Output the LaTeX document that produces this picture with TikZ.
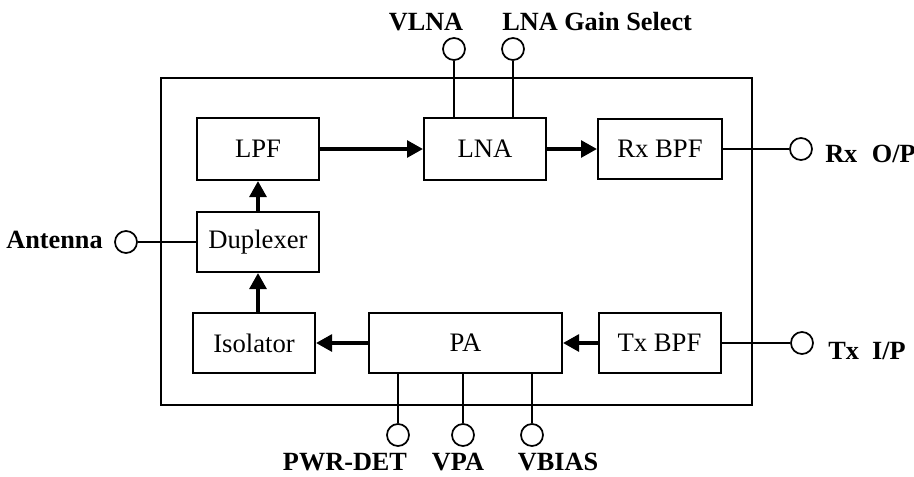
\documentclass[tikz,border=0pt]{standalone}
\usepackage{fontspec}
\setmainfont{Liberation Serif}
\usetikzlibrary{arrows.meta}

\begin{document}
\begin{tikzpicture}[x=0.75pt,y=-0.75pt,
    blk/.style={draw,line width=1.5pt,rectangle,minimum width=91.5pt,minimum height=45pt,inner sep=0pt,font=\fontsize{20}{22}\selectfont},
    pin/.style={draw,circle,line width=1.3pt,minimum size=16.5pt,inner sep=0pt},
    lbl/.style={inner sep=0pt,font=\fontsize{19.7}{22}\selectfont\bfseries},
    sig/.style={line width=2.8pt,-{Triangle[length=12pt,width=12.5pt]}},
    wire/.style={line width=1pt}]
    \useasboundingbox (0,0) rectangle (914,476);
    % module outline
    \node [draw,line width=1.5pt,minimum width=443.25pt,minimum height=245.25pt,inner sep=0pt](module) at (456.5,241.5) {};
    % receive path
    \node [blk,minimum height=46.5pt](lpf) at (258,149) {LPF};
    \node [blk,minimum height=46.5pt](lna) at (485,149) {LNA};
    \node [blk,minimum width=93pt](rxbpf) at (660,149) {Rx BPF};
    \node [blk](dup) at (258,242) {Duplexer};
    % transmit path
    \node [blk](iso) at (254,343) {Isolator};
    \node [blk,minimum width=144.75pt](pa) at (465.5,343) {PA};
    \node [blk](txbpf) at (659.5,343) {Tx BPF};
    \draw[sig](lpf.east)--(lna.west);
    \draw[sig](lna.east)--(rxbpf.west);
    \draw[sig](dup.north)--(lpf.south);
    \draw[sig](dup.south |- iso.north)--(dup.south);
    \draw[sig](pa.west)--(iso.east);
    \draw[sig](txbpf.west)--(pa.east);
    %
    \node [pin](vlna) at (454,49) {};
    \node [pin](gain) at (513,49) {};
    \node [pin](rxo) at (801,149) {};
    \node [pin](ant) at (126,242) {};
    \node [pin](txi) at (802,343) {};
    \node [pin](pwr) at (398,435) {};
    \node [pin](vpa) at (463,435) {};
    \node [pin](vbias) at (532,435) {};
    \draw[wire](lna.north -| vlna)--(vlna);
    \draw[wire](lna.north -| gain)--(gain);
    \draw[wire](rxbpf.east)--(rxo);
    \draw[wire](dup.west)--(ant);
    \draw[wire](txbpf.east)--(txi);
    \draw[wire](pa.south -| pwr)--(pwr);
    \draw[wire](pa.south -| vpa)--(vpa);
    \draw[wire](pa.south -| vbias)--(vbias);
    %
    \node [lbl,anchor=base](vlnalbl) at (426,30) {VLNA};
    \node [lbl,anchor=base west](gainlbl) at (502,30) {LNA Gain Select};
    \node [lbl,anchor=base west](rxolbl) at (825,162) {Rx\hspace{0.55em}O/P};
    \node [lbl,anchor=base east](antlbl) at (103,248) {Antenna};
    \node [lbl,anchor=base west](txilbl) at (828,359) {Tx\hspace{0.5em}I/P};
    \node [lbl,anchor=base](pwrlbl) at (345,470) {PWR-DET};
    \node [lbl,anchor=base](vpalbl) at (458,470) {VPA};
    \node [lbl,anchor=base](vbiaslbl) at (558,470) {VBIAS};
\end{tikzpicture}
\end{document}
